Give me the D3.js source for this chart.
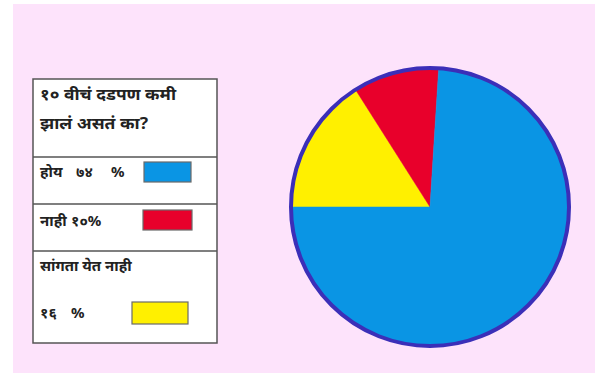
<!DOCTYPE html>
<html>
<head>
<meta charset="utf-8">
<script src="https://cdn.jsdelivr.net/npm/d3@7"></script>
<style>
  body { margin: 0; background: #ffffff; }
  svg { display: block; }
  text { font-family: "Noto Sans", "Noto Sans Devanagari", "Lohit Devanagari", sans-serif; fill: #222222; font-weight: bold; }
</style>
</head>
<body>
<svg id="chart"></svg>
<script>
const width = 595;
const height = 373;

// data
const titleLines = ['१० वीचं दडपण कमी', 'झालं असतं का?'];
const categories = ['होय', 'नाही', 'सांगता येत नाही'];
const percentNums = ['७४', '१०', '१६'];
const values = [74, 10, 16];
const colors = ['#0a95e4', '#e8002b', '#fff000'];

const svg = d3.select('svg#chart').attr('width', width).attr('height', height);

// pink page
svg.append('rect')
    .attr('x', 13).attr('y', 4)
    .attr('width', width - 13).attr('height', height - 4)
    .attr('fill', '#fde3fb');

// ---- legend box ----
const box = { x: 33, y: 79, w: 184, h: 264 };
const rowEdges = [79, 157, 204, 251, 343];

const legend = svg.append('g');
legend.append('rect')
    .attr('x', box.x).attr('y', box.y)
    .attr('width', box.w).attr('height', box.h)
    .attr('fill', '#ffffff')
    .attr('stroke', '#555555')
    .attr('stroke-width', 1.5);

rowEdges.slice(1, -1).forEach(y => {
    legend.append('line')
        .attr('x1', box.x).attr('x2', box.x + box.w)
        .attr('y1', y).attr('y2', y)
        .attr('stroke', '#555555')
        .attr('stroke-width', 1.5);
});

titleLines.forEach((t, i) => {
    legend.append('text')
        .attr('x', 40).attr('y', 100 + i * 29)
        .attr('font-size', 15.5)
        .attr('textLength', i === 0 ? 136 : 108)
        .attr('lengthAdjust', 'spacingAndGlyphs')
        .text(t);
});

function addText(x, y, t) {
    legend.append('text').attr('x', x).attr('y', y).attr('font-size', 15).text(t);
}

// row 1: yes
addText(40, 177, categories[0]);
addText(76, 177, percentNums[0]);
addText(111, 177, '%');
// row 2: no
addText(40, 226, categories[1]);
addText(71, 226, percentNums[1] + '%');
// row 3: can't say
addText(40, 271, categories[2]);
addText(40, 318, percentNums[2]);
addText(71, 318, '%');

const swatches = [
    { x: 144, y: 162, w: 47, h: 20 },
    { x: 143, y: 210, w: 49, h: 20 },
    { x: 132, y: 302, w: 56, h: 22 }
];
swatches.forEach((s, i) => {
    legend.append('rect')
        .attr('x', s.x).attr('y', s.y)
        .attr('width', s.w).attr('height', s.h)
        .attr('fill', colors[i])
        .attr('stroke', '#6a6a6a')
        .attr('stroke-width', 1.2);
});

// ---- pie ----
const cx = 430, cy = 207, r = 139;
const pieData = values.map((v, i) => ({ v: v, i: i }));
// draw order: can't say, no, yes — starting from 9 o'clock going clockwise
const pie = d3.pie()
    .value(d => d.v)
    .sort(null)
    .startAngle(-Math.PI / 2)
    .endAngle(1.5 * Math.PI);
const arc = d3.arc().innerRadius(0).outerRadius(r);

const pg = svg.append('g').attr('transform', `translate(${cx},${cy})`);
pg.selectAll('path.slice')
    .data(pie([pieData[2], pieData[1], pieData[0]]))
    .join('path')
    .attr('class', 'slice')
    .attr('d', arc)
    .attr('fill', d => colors[d.data.i])
    .attr('stroke', d => colors[d.data.i])
    .attr('stroke-width', 0.5);

pg.append('circle')
    .attr('r', r)
    .attr('fill', 'none')
    .attr('stroke', '#3b2fb8')
    .attr('stroke-width', 4);
</script>
</body>
</html>
